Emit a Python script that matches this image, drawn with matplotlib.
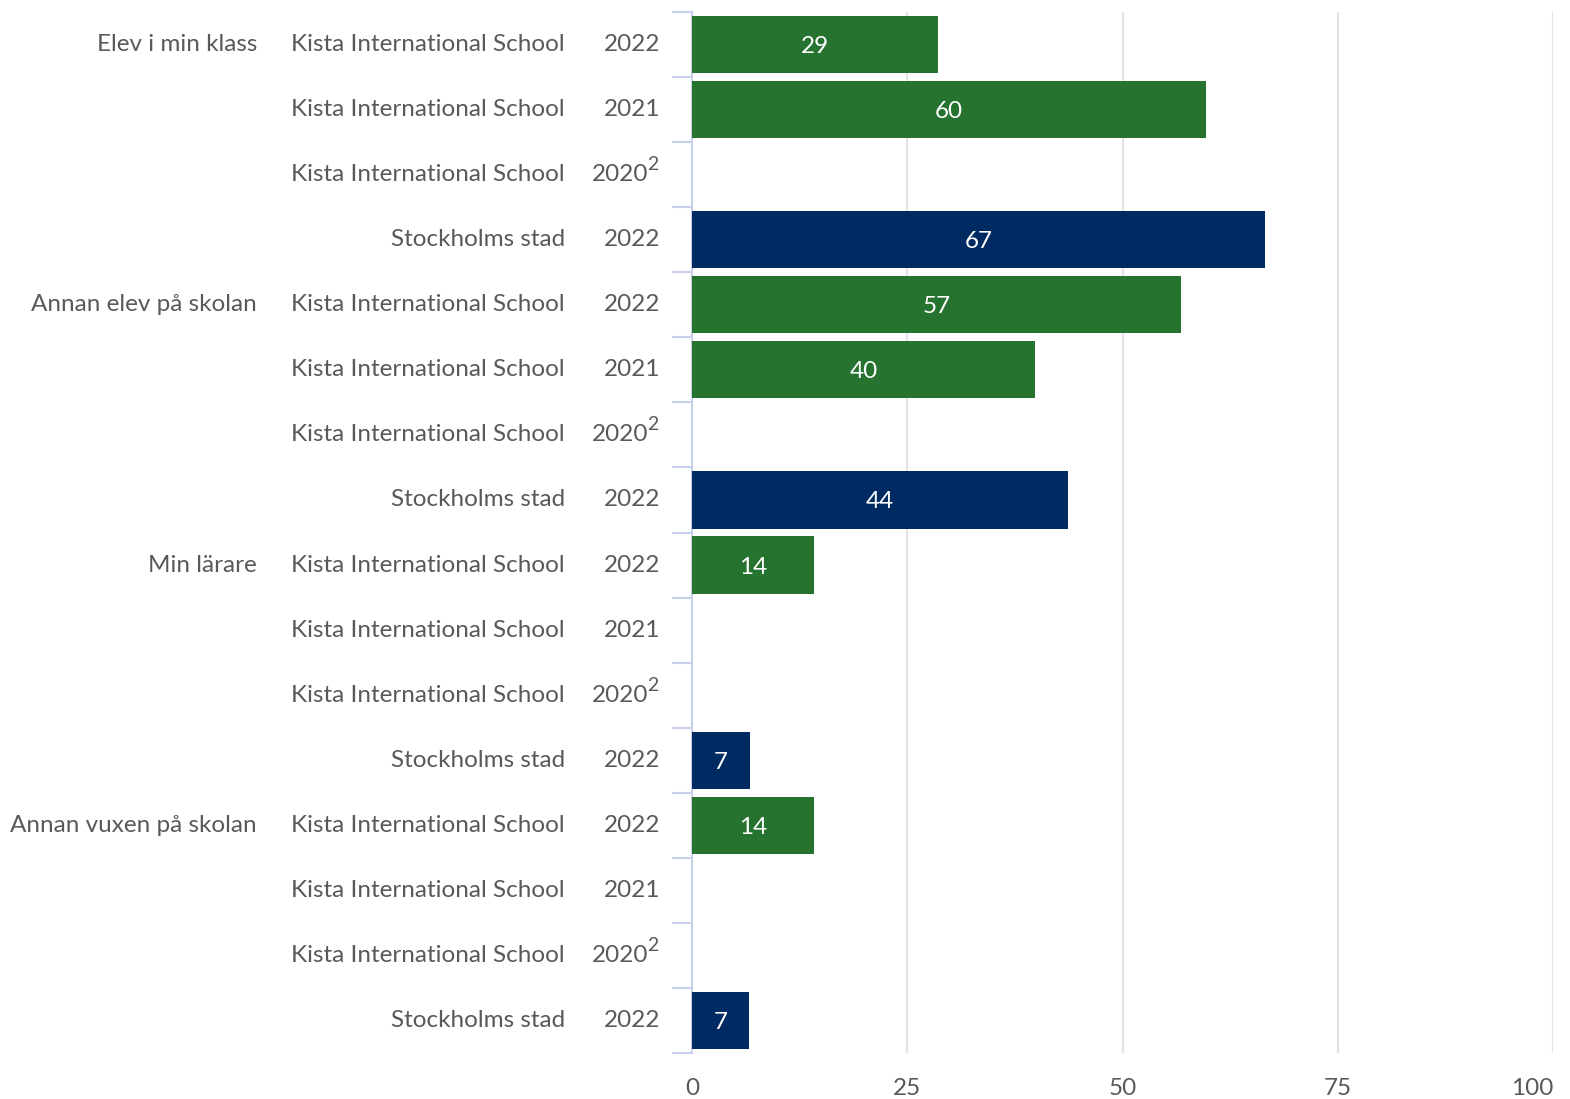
import matplotlib.pyplot as plt
from matplotlib.transforms import blended_transform_factory, offset_copy

plt.rcParams['font.family'] = ['Lato', 'DejaVu Sans']

# Data
groups = ["Elev i min klass", "Annan elev på skolan", "Min lärare", "Annan vuxen på skolan"]
units = ["Kista International School", "Kista International School",
         "Kista International School", "Stockholms stad"]
years = ["2022", "2021", "2020", "2022"]
year_notes = ["", "", "2", ""]
is_city = [False, False, False, True]

values = [
    28.6, 59.7, None, 66.6,
    56.8, 39.8, None, 43.7,
    14.2, None, None, 6.7,
    14.2, None, None, 6.6,
]

green = "#26722f"
navy = "#002b62"
text_color = "#595959"
axis_color = "#c9d1ea"
grid_color = "#e3e3e6"
fs = 17.5

fig = plt.figure(figsize=(15.7, 10.99), dpi=100)
ax = fig.add_axes([0.4408, 0.0418, 0.5484, 0.9473])

n = len(values)
for i, v in enumerate(values):
    if v is None:
        continue
    c = navy if is_city[i % 4] else green
    ax.barh(i, v, height=0.88, color=c, zorder=3)
    ax.text(v / 2, i + 0.03, "{:.0f}".format(v), color="white", fontsize=fs,
            ha="center", va="center", zorder=4)

ax.set_xlim(0, 100)
ax.set_ylim(n - 0.5, -0.5)
ax.set_xticks([0, 25, 50, 75, 100])
ax.tick_params(axis="x", length=0, labelsize=fs, labelcolor=text_color, pad=18)
ax.get_xticklabels()[-1].set_horizontalalignment("right")
ax.grid(axis="x", color=grid_color, linewidth=1.5, zorder=0)

# category boundary ticks
ax.set_yticks([i - 0.5 for i in range(n + 1)])
ax.set_yticklabels([])
ax.tick_params(axis="y", length=14.5, width=1.5, color=axis_color)

for s in ["top", "right", "bottom"]:
    ax.spines[s].set_visible(False)
ax.spines["left"].set_color(axis_color)
ax.spines["left"].set_linewidth(1.5)

# row labels
base = blended_transform_factory(ax.transAxes, ax.transData)
t_year = offset_copy(base, fig=fig, x=-32, y=0, units="dots")
t_year_sup = offset_copy(base, fig=fig, x=-44, y=0, units="dots")
t_note = offset_copy(base, fig=fig, x=-45, y=10, units="dots")
t_unit = offset_copy(base, fig=fig, x=-127, y=0, units="dots")
t_group = offset_copy(base, fig=fig, x=-435, y=0, units="dots")
for i in range(n):
    k = i % 4
    if year_notes[k]:
        ax.text(0, i, years[k], transform=t_year_sup, ha="right", va="center",
                fontsize=fs, color=text_color)
        ax.text(0, i, year_notes[k], transform=t_note, ha="left", va="center",
                fontsize=fs * 0.8, color=text_color)
    else:
        ax.text(0, i, years[k], transform=t_year, ha="right", va="center",
                fontsize=fs, color=text_color)
    ax.text(0, i, units[k], transform=t_unit, ha="right", va="center",
            fontsize=fs, color=text_color)
    if k == 0:
        ax.text(0, i, groups[i // 4], transform=t_group, ha="right", va="center",
                fontsize=fs, color=text_color)

fig.savefig("out.png", dpi=100)
